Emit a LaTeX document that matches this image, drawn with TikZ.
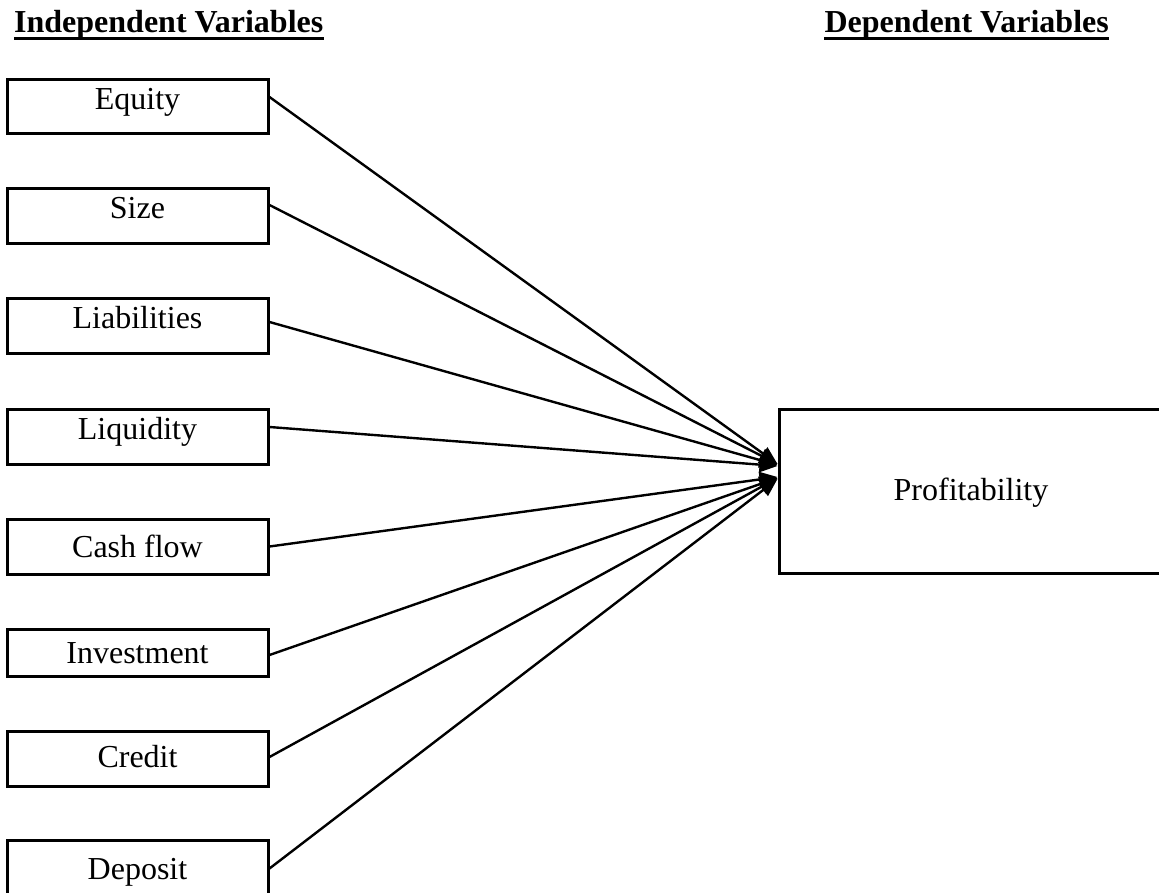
\documentclass[tikz,border=0pt]{standalone}
\usepackage{fontspec}
\setmainfont{Liberation Serif}
\usetikzlibrary{arrows.meta}
\begin{document}
\begin{tikzpicture}[x=1pt,y=-1pt,
  varbox/.style={draw, line width=3pt, minimum width=261pt, inner sep=0pt, font=\fontsize{32}{38}\selectfont},
  titletext/.style={inner sep=0pt, font=\fontsize{32}{38}\selectfont\bfseries},
  uline/.style={line width=3pt},
  link/.style={line width=2.4pt, -{Triangle[length=18pt,width=15pt]}},
]
\useasboundingbox (0,0) rectangle (1159,893);
\clip (0,0) rectangle (1159,893);

\node[titletext, anchor=base west] (t1) at (14,33) {Independent Variables};
\node[titletext, anchor=base east] (t2) at (1109,33) {Dependent Variables};
\draw[uline] ([yshift=-6pt]t1.base west) -- ([yshift=-6pt]t1.base east);
\draw[uline] ([yshift=-6pt]t2.base west) -- ([yshift=-6pt]t2.base east);

\node[varbox, minimum height=54pt, text height=18pt, text depth=12pt] (eq) at (137.5,107) {Equity};
\node[varbox, minimum height=55pt, text height=17.5pt, text depth=12.5pt] (sz) at (137.5,216.5) {Size};
\node[varbox, minimum height=54pt, text height=17pt, text depth=13pt] (li) at (137.5,326) {Liabilities};
\node[varbox, minimum height=55pt, text height=17.5pt, text depth=12.5pt] (lq) at (137.5,436.5) {Liquidity};
\node[varbox, minimum height=55pt, text height=25.5pt, text depth=4.5pt] (cf) at (137.5,546.5) {Cash flow};
\node[varbox, minimum height=47pt, text height=25.5pt, text depth=4.5pt] (iv) at (137.5,652.5) {Investment};
\node[varbox, minimum height=55pt, text height=23.5pt, text depth=6.5pt] (cr) at (137.5,758.5) {Credit};
\node[varbox, minimum height=57pt, text height=25.5pt, text depth=4.5pt] (dp) at (137.5,868.5) {Deposit};

\node[varbox, minimum width=384pt, minimum height=164pt, text height=24pt, text depth=6pt] (pr) at (971,491) {Profitability};

\draw[link] ([yshift=10pt]eq.east) -- ([yshift=27pt]pr.west);
\draw[link] ([yshift=11.5pt]sz.east) -- ([yshift=27pt]pr.west);
\draw[link] ([yshift=4pt]li.east) -- ([yshift=26pt]pr.west);
\draw[link] ([yshift=9.5pt]lq.east) -- ([yshift=25pt]pr.west);
\draw[link] (cf.east) -- ([yshift=14pt]pr.west);
\draw[link] ([yshift=-2.5pt]iv.east) -- ([yshift=13pt]pr.west);
\draw[link] ([yshift=1.5pt]cr.east) -- ([yshift=13pt]pr.west);
\draw[link] (dp.east) -- ([yshift=12pt]pr.west);
\end{tikzpicture}
\end{document}
